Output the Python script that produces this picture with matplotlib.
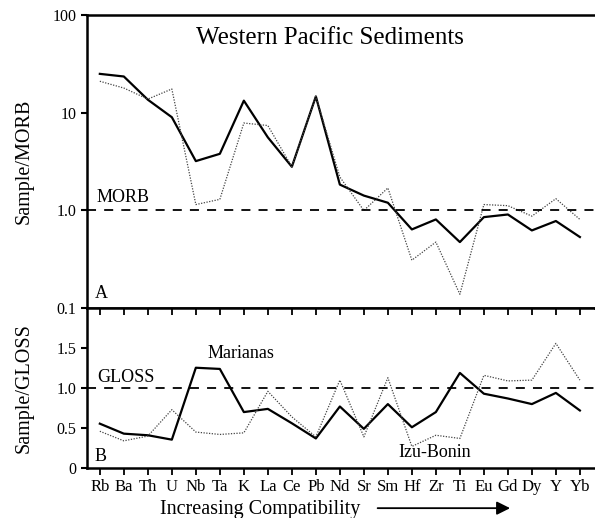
import numpy as np
import matplotlib
matplotlib.use("Agg")
import matplotlib.pyplot as plt
from matplotlib.patches import FancyArrowPatch
from matplotlib.ticker import FixedLocator, FixedFormatter

plt.rcParams['font.family'] = ['Liberation Serif', 'DejaVu Serif']

elements = ["Rb", "Ba", "Th", "U", "Nb", "Ta", "K", "La", "Ce", "Pb",
            "Nd", "Sr", "Sm", "Hf", "Zr", "Ti", "Eu", "Gd", "Dy", "Y", "Yb"]

# Sample / MORB
marianas_morb = [25, 23.5, 13.6, 9.0, 3.2, 3.8, 13.3, 5.6, 2.8, 14.7,
                 1.84, 1.42, 1.2, 0.64, 0.81, 0.475, 0.855, 0.91, 0.625, 0.78, 0.535]
izu_morb = [21, 17.9, 13.8, 17.5, 1.15, 1.3, 7.85, 7.4, 2.8, 14.7,
            2.2, 1.0, 1.7, 0.31, 0.475, 0.139, 1.15, 1.12, 0.875, 1.32, 0.81]

# Sample / GLOSS
marianas_gloss = [0.555, 0.43, 0.41, 0.355, 1.255, 1.24, 0.70, 0.74, 0.56, 0.37,
                  0.77, 0.49, 0.80, 0.51, 0.70, 1.19, 0.93, 0.87, 0.80, 0.94, 0.72]
izu_gloss = [0.46, 0.34, 0.40, 0.73, 0.45, 0.42, 0.44, 0.96, 0.64, 0.39,
             1.10, 0.39, 1.13, 0.27, 0.41, 0.37, 1.16, 1.09, 1.10, 1.56, 1.10]

x = np.arange(len(elements))

fig = plt.figure(figsize=(5.95, 5.18), dpi=100)
ax1 = fig.add_axes([0.146, 0.405, 0.852, 0.566])
ax2 = fig.add_axes([0.146, 0.0965, 0.852, 0.3085])

xlim = (-0.54, 20.58)

# ---- top panel
ax1.plot(x, marianas_morb, color="black", lw=1.6)
ax1.plot(x, izu_morb, color="#444444", lw=0.9, ls=(0, (1, 1.2)))
ax1.axhline(1.0, color="black", lw=1.3, ls=(0, (5, 4.5)))
ax1.set_yscale("log")
ax1.set_ylim(0.1, 100)
ax1.set_xlim(*xlim)
ax1.yaxis.set_major_locator(FixedLocator([0.1, 1, 10, 100]))
ax1.yaxis.set_major_formatter(FixedFormatter(["0.1", "1.0", "10", "100"]))
ax1.yaxis.set_minor_locator(FixedLocator([]))
ax1.set_xticks([])
ax1.set_ylabel("Sample/MORB", fontsize=14.5)
ax1.yaxis.set_label_coords(-0.105, 0.5)
ax1.text(0.48, 0.92, "Western Pacific Sediments", transform=ax1.transAxes,
         ha="center", va="center", fontsize=18)
ax1.text(0.02, 1.12, "MORB", transform=ax1.get_yaxis_transform(), fontsize=13,
         va="bottom")
ax1.text(0.015, 0.115, "A", transform=ax1.get_yaxis_transform(), fontsize=13,
         va="bottom")

# ---- bottom panel
ax2.plot(x, marianas_gloss, color="black", lw=1.6)
ax2.plot(x, izu_gloss, color="#444444", lw=0.9, ls=(0, (1, 1.2)))
ax2.axhline(1.0, color="black", lw=1.3, ls=(0, (5, 4.5)))
ax2.set_ylim(0, 2.0)
ax2.set_xlim(*xlim)
ax2.set_yticks([0, 0.5, 1.0, 1.5])
ax2.set_yticklabels(["0", "0.5", "1.0", "1.5"])
ax2.set_xticks(x)
ax2.set_xticklabels(elements, fontsize=12)
ax2.tick_params(axis="x", top=True, direction="out", length=5, width=1.3, pad=3)
ax2.set_ylabel("Sample/GLOSS", fontsize=14.5)
ax2.yaxis.set_label_coords(-0.105, 0.5)
ax2.text(0.02, 1.03, "GLOSS", transform=ax2.get_yaxis_transform(), fontsize=13,
         va="bottom")
ax2.text(0.015, 0.04, "B", transform=ax2.get_yaxis_transform(), fontsize=13,
         va="bottom")
ax2.text(5.9, 1.43, "Marianas", fontsize=13, ha="center", va="center")
ax2.text(13.95, 0.2, "Izu-Bonin", fontsize=13, ha="center", va="center")
ax2.set_xlabel("Increasing Compatibility", fontsize=14.5)
ax2.xaxis.set_label_coords(0.341, -0.2)

# top ticks of lower panel point inward
for t in ax2.xaxis.get_major_ticks():
    t.tick2line.set_marker(3)

for ax in (ax1, ax2):
    ax.spines["right"].set_visible(False)
    for s in ("left", "top", "bottom"):
        ax.spines[s].set_linewidth(1.8)
    ax.tick_params(axis="y", direction="out", length=4, width=1.5, labelsize=11.5)

fig.patches.append(FancyArrowPatch(
    (0.63, 0.019), (0.862, 0.019), transform=fig.transFigure,
    arrowstyle="-|>,head_length=8,head_width=4", color="black", lw=1.3,
    mutation_scale=1))

fig.savefig("out.png", dpi=100)
